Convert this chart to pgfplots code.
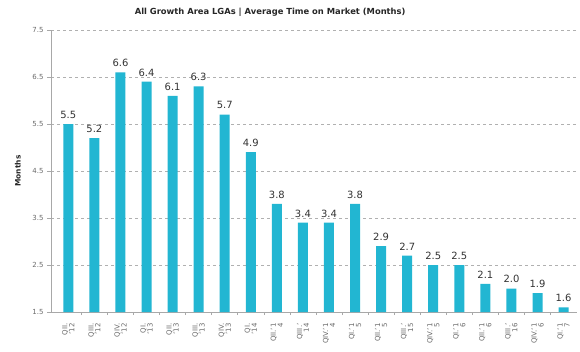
\documentclass[border=0pt]{standalone}
\usepackage{pgfplots}
\pgfplotsset{compat=1.18}
\usepackage{fontspec}
\setmainfont{DejaVu Sans}
\definecolor{barc}{HTML}{22B6D2}
\definecolor{axc}{HTML}{A8A8A8}
\definecolor{tickt}{HTML}{6A6A6A}
\definecolor{gridc}{HTML}{B0B0B0}
\begin{document}
\begin{tikzpicture}
\useasboundingbox (-51bp,-40bp) rectangle (529bp,312bp);
\begin{axis}[
  at={(0,0)}, anchor=south west,
  scale only axis, width=525.6bp, height=282bp,
  xmin=-0.665, xmax=19.5, ymin=1.5, ymax=7.5,
  axis x line*=bottom, axis y line*=left,
  axis line style={draw=axc, line width=0.8pt},
  ytick={1.5,2.5,3.5,4.5,5.5,6.5,7.5},
  yticklabel style={font=\fontsize{7}{7.5}\selectfont, text=tickt},
  /pgf/number format/assume math mode=true,
  yticklabel={\pgfmathprintnumber[fixed,fixed zerofill,precision=1]{\tick}},
  ymajorgrids, grid style={draw=gridc, dash pattern=on 3bp off 3bp, line width=0.5pt},
  tick align=outside, major tick length=4bp,
  tick style={draw=axc, line width=0.6pt},
  xtick={0,...,19},
  x tick style={draw=none},
  minor xtick={0.5,1.5,...,18.5},
  minor tick length=3bp,
  minor x tick style={draw=axc, line width=0.6pt},
  xticklabels={{QII.\\'12},{QIII.\\'12},{QIV.\\'12},{QI.\\'13},{QII.\\'13},{QIII.\\'13},{QIV.\\'13},{QI.\\'14},{QII.'1\\4},{QIII.'\\14},{QIV.'1\\4},{QI.'1\\5},{QII.'1\\5},{QIII.'\\15},{QIV.'1\\5},{QI.'1\\6},{QII.'1\\6},{QIII.'\\16},{QIV.'1\\6},{QI.'1\\7}},
  xticklabel shift=4bp,
  xticklabel style={rotate=90, anchor=east, align=right, font=\fontsize{7}{7}\selectfont, text=tickt},
  ylabel={Months},
  ylabel style={at={(axis description cs:-0.063,0.5)}, rotate=0, anchor=center, font=\bfseries\fontsize{7.5}{8}\selectfont, text=black!85},
  title={All Growth Area LGAs | Average Time on Market (Months)},
  title style={at={(axis description cs:0.417,1)}, anchor=center, yshift=12bp, font=\bfseries\fontsize{8.4}{9}\selectfont, text=black!85},
  nodes near coords={\pgfmathprintnumber[fixed,fixed zerofill,precision=1]{\pgfplotspointmeta}},
  every node near coord/.append style={font=\fontsize{10}{10}\selectfont, text=black!80, yshift=2bp},
  clip=false,
]
\addplot[ybar, bar width=10bp, fill=barc, draw=none] coordinates {
(0,5.5) (1,5.2) (2,6.6) (3,6.4) (4,6.1) (5,6.3) (6,5.7) (7,4.9) (8,3.8) (9,3.4)
(10,3.4) (11,3.8) (12,2.9) (13,2.7) (14,2.5) (15,2.5) (16,2.1) (17,2.0) (18,1.9) (19,1.6)
};
\end{axis}
\end{tikzpicture}
\end{document}
